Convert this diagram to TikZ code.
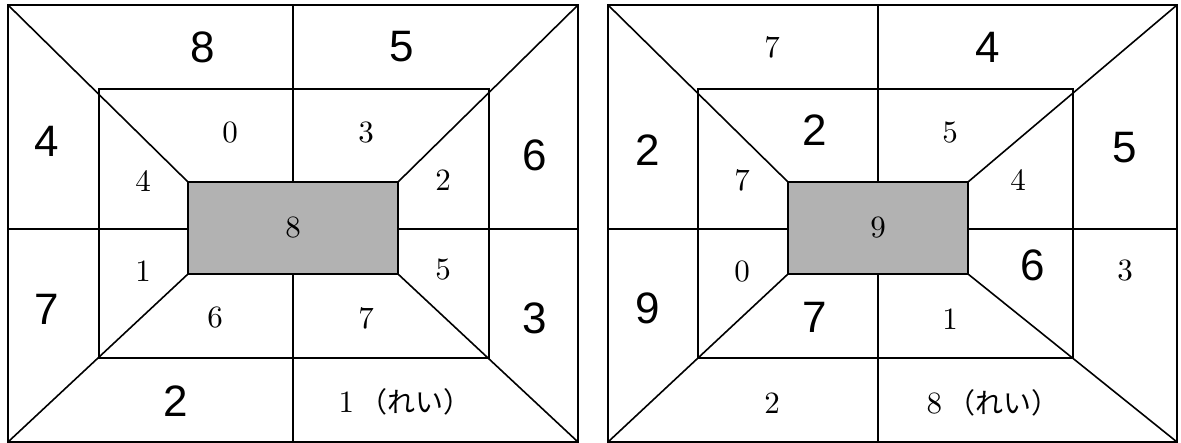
\documentclass[tikz,border=0pt]{standalone}
\usepackage{fontspec}
\setsansfont{Liberation Sans}
\newfontfamily\numfont{lmroman10-regular.otf}
\newfontfamily\jafont{Noto Sans CJK JP}
\usepackage{tikz}

\begin{document}
\begin{tikzpicture}[
  x=1pt,y=-1pt,
  every node/.style={inner sep=0pt},
  wall/.style={line width=1.6pt,line join=miter},
  core/.style={fill=black!30},
  bignum/.style={font=\sffamily\fontsize{44}{44}\selectfont},
  smallnum/.style={font=\numfont\fontsize{31}{31}\selectfont},
]
  \useasboundingbox (0,0) rectangle (1181,443);

  % left panel
  \fill[core] (188,182) rectangle (398,274);
  \draw[wall] (8,5) rectangle (578,442);
  \draw[wall] (99,89) rectangle (489,358);
  \draw[wall] (188,182) rectangle (398,274);
  \draw[wall] (8,5) -- (188,182);
  \draw[wall] (578,5) -- (398,182);
  \draw[wall] (8,442) -- (188,274);
  \draw[wall] (578,442) -- (398,274);
  \draw[wall] (293,5) -- (293,182);
  \draw[wall] (293,274) -- (293,442);
  \draw[wall] (8,229) -- (188,229);
  \draw[wall] (398,229) -- (578,229);

  \node[bignum] (lt1) at (203,47) {8};
  \node[bignum] (lt2) at (402,47) {5};
  \node[bignum] (ll1) at (47,141) {4};
  \node[bignum] (ll2) at (47,309) {7};
  \node[bignum] (lr1) at (535,155) {6};
  \node[bignum] (lr2) at (535,318) {3};
  \node[bignum] (lb1) at (176,401) {2};
  \node[smallnum] (lmt1) at (230,133) {0};
  \node[smallnum] (lmt2) at (366,133) {3};
  \node[smallnum] (lml1) at (143,181) {4};
  \node[smallnum] (lml2) at (143,271) {1};
  \node[smallnum] (lmr1) at (443,180) {2};
  \node[smallnum] (lmr2) at (443,270) {5};
  \node[smallnum] (lmb1) at (215,318) {6};
  \node[smallnum] (lmb2) at (366,318) {7};
  \node[smallnum] (lc) at (293,228) {8};
  \node[smallnum] (lb2) at (405,402) {1\,{\jafont\fontsize{28}{28}\selectfont （れい）}};

  % right panel
  \fill[core] (788,182) rectangle (968,274);
  \draw[wall] (608,5) rectangle (1177,442);
  \draw[wall] (698,89) rectangle (1073,358);
  \draw[wall] (788,182) rectangle (968,274);
  \draw[wall] (608,5) -- (788,182);
  \draw[wall] (1177,5) -- (968,182);
  \draw[wall] (608,442) -- (788,274);
  \draw[wall] (1177,442) -- (968,274);
  \draw[wall] (878,5) -- (878,182);
  \draw[wall] (878,274) -- (878,442);
  \draw[wall] (608,229) -- (788,229);
  \draw[wall] (968,229) -- (1177,229);

  \node[smallnum] (rt1) at (772,47) {7};
  \node[bignum] (rt2) at (988,47) {4};
  \node[bignum] (rl1) at (648,150) {2};
  \node[bignum] (rl2) at (648,308) {9};
  \node[bignum] (rr1) at (1125,148) {5};
  \node[smallnum] (rr2) at (1125,271) {3};
  \node[smallnum] (rb1) at (772,403) {2};
  \node[bignum] (rmt1) at (815,130) {2};
  \node[smallnum] (rmt2) at (950,133) {5};
  \node[smallnum] (rml1) at (742,180) {7};
  \node[smallnum] (rml2) at (742,272) {0};
  \node[smallnum] (rmr1) at (1018,180) {4};
  \node[bignum] (rmr2) at (1033,265) {6};
  \node[bignum] (rmb1) at (815,317) {7};
  \node[smallnum] (rmb2) at (950,319) {1};
  \node[smallnum] (rc) at (878,228) {9};
  \node[smallnum] (rb2) at (993,403) {8\,{\jafont\fontsize{28}{28}\selectfont （れい）}};
\end{tikzpicture}
\end{document}
